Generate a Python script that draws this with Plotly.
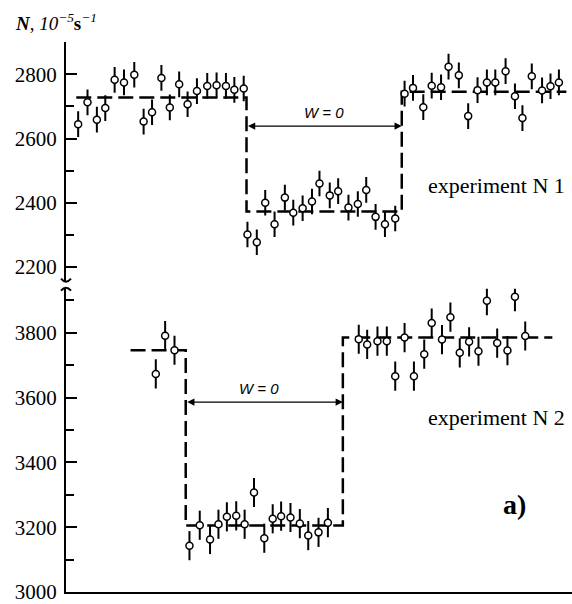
import plotly.graph_objects as go

# ---------------- data (time in arbitrary units, counting rate N in 1e-5 s^-1) --------------
# experiment N 1
t1 = [1.3, 2.3, 3.3, 4.2, 5.2, 6.2, 7.3, 8.3, 9.2, 10.2, 11.1, 12.1, 13.0, 14.0, 15.1, 16.1, 17.1, 18.0, 19.0,
      19.4, 20.4, 21.3, 22.3, 23.4, 24.3, 25.3, 26.3, 27.1, 28.2, 29.1, 30.2, 31.2, 32.1, 33.1, 34.1, 35.2,
      36.2, 37.1, 38.2, 39.1, 40.1, 40.9, 42.0, 43.0, 44.0, 45.0, 45.9, 47.0, 48.0, 48.8, 49.8, 50.9, 51.8, 52.7]
n1 = [2645, 2713, 2659, 2695, 2783, 2775, 2799, 2653, 2682, 2789, 2697, 2769, 2707, 2748, 2764, 2766, 2764, 2752, 2756,
      2301, 2277, 2400, 2333, 2416, 2369, 2383, 2404, 2460, 2423, 2436, 2385, 2396, 2440, 2356, 2333, 2351,
      2740, 2758, 2698, 2765, 2760, 2824, 2797, 2670, 2751, 2775, 2775, 2810, 2732, 2664, 2794, 2750, 2763, 2775]
err1 = 40
# mean levels (step line) of experiment N 1
step1_t = [1.1, 19.3, 19.3, 35.9, 35.9, 53.5]
step1_n = [2728, 2728, 2373, 2373, 2746, 2746]

# experiment N 2
t2 = [9.6, 10.6, 11.6,
      13.2, 14.3, 15.4, 16.3, 17.2, 18.2, 19.1, 20.1, 21.2, 22.1, 23.0, 24.0, 25.0, 25.9, 27.0, 28.0,
      31.3, 32.2, 33.3, 34.3, 35.2, 36.2, 37.2, 38.3, 39.1, 40.2, 41.1, 42.1, 43.1, 44.1, 45.0, 46.1, 47.2, 48.0, 49.1]
n2 = [3673, 3791, 3746,
      3143, 3206, 3162, 3209, 3232, 3235, 3209, 3307, 3166, 3226, 3234, 3230, 3211, 3174, 3184, 3214,
      3780, 3764, 3774, 3774, 3666, 3785, 3666, 3734, 3830, 3779, 3848, 3738, 3772, 3743, 3899, 3768, 3745, 3911, 3790]
err2 = 45
step2_t = [6.9, 12.8, 12.8, 29.6, 29.6, 52.0]
step2_n = [3746, 3746, 3205, 3205, 3785, 3785]

# W = 0 intervals (start, end, level)
w1 = (19.3, 35.9, 2639)
w2 = (12.8, 29.6, 3586)

ticks_top = [2200, 2400, 2600, 2800]
ticks_bot = [3000, 3200, 3400, 3600, 3800]

# ---------------- figure ----------------
SERIF = "Liberation Serif"
fig = go.Figure()

dash = "15px,6px"
fig.add_trace(go.Scatter(x=step1_t, y=step1_n, mode="lines", xaxis="x2", yaxis="y2",
                         line=dict(color="black", width=2.5, dash=dash), hoverinfo="skip"))
fig.add_trace(go.Scatter(x=t1, y=n1, mode="markers", xaxis="x2", yaxis="y2",
                         error_y=dict(type="constant", value=err1, color="black", thickness=2, width=0),
                         marker=dict(symbol="circle", size=7, color="white",
                                     line=dict(color="black", width=1.5))))
fig.add_trace(go.Scatter(x=step2_t, y=step2_n, mode="lines", xaxis="x", yaxis="y",
                         line=dict(color="black", width=2.5, dash=dash), hoverinfo="skip"))
fig.add_trace(go.Scatter(x=t2, y=n2, mode="markers", xaxis="x", yaxis="y",
                         error_y=dict(type="constant", value=err2, color="black", thickness=2, width=0),
                         marker=dict(symbol="circle", size=7, color="white",
                                     line=dict(color="black", width=1.5))))

XR = [0, 54.1]
tickfont = dict(family=SERIF, size=21, color="black")
fig.update_layout(
    width=572, height=604,
    margin=dict(l=66, r=0, t=42, b=9),
    paper_bgcolor="white", plot_bgcolor="white",
    showlegend=False,
    xaxis=dict(domain=[0, 1], range=XR, showline=True, linecolor="black", linewidth=2,
               showticklabels=False, ticks="", showgrid=False, zeroline=False, anchor="y"),
    xaxis2=dict(domain=[0, 1], range=XR, visible=False, anchor="y2", matches="x"),
    yaxis=dict(domain=[0, 0.5515], range=[3000, 3936], showline=True, linecolor="black", linewidth=2,
               tickvals=ticks_bot, ticks="inside", ticklen=11, tickwidth=2, tickcolor="black",
               minor=dict(ticks="inside", dtick=100, tick0=3000, ticklen=8, tickwidth=2, tickcolor="black"),
               tickfont=tickfont, ticklabeloverflow="allow", ticklabelstandoff=3,
               showgrid=False, zeroline=False, anchor="x"),
    yaxis2=dict(domain=[0.5642, 1], range=[2154, 2901], showline=True, linecolor="black", linewidth=2,
                tickvals=ticks_top, ticks="inside", ticklen=11, tickwidth=2, tickcolor="black",
                minor=dict(ticks="inside", dtick=100, tick0=2200, ticklen=8, tickwidth=2, tickcolor="black"),
                tickfont=tickfont, ticklabeloverflow="allow", ticklabelstandoff=3,
                showgrid=False, zeroline=False, anchor="x2"),
)

# W = 0 double arrows
for (a, b, lev), ya, xa in [(w1, "y2", "x2"), (w2, "y", "x")]:
    fig.add_annotation(x=b, y=lev, ax=a, ay=lev, xref=xa, yref=ya, axref=xa, ayref=ya,
                       text="", showarrow=True, arrowhead=2, arrowsize=1.2, arrowwidth=1.2,
                       arrowcolor="black", arrowside="end+start")

fig.add_annotation(x=(w1[0] + w1[1]) / 2, y=w1[2], xref="x2", yref="y2", yshift=14,
                   text="<i>W = 0</i>", showarrow=False,
                   font=dict(family="Liberation Sans", size=15, color="black"))
fig.add_annotation(x=(w2[0] + w2[1]) / 2 - 0.6, y=w2[2], xref="x", yref="y", yshift=14,
                   text="<i>W = 0</i>", showarrow=False,
                   font=dict(family="Liberation Sans", size=15, color="black"))

fig.add_annotation(x=46.0, y=2455, xref="x2", yref="y2", text="experiment N 1", showarrow=False,
                   font=dict(family=SERIF, size=22, color="black"))
fig.add_annotation(x=46.0, y=3540, xref="x", yref="y", text="experiment N 2", showarrow=False,
                   font=dict(family=SERIF, size=22, color="black"))
fig.add_annotation(x=48.0, y=3270, xref="x", yref="y", text="<b>a)</b>", showarrow=False,
                   font=dict(family=SERIF, size=28, color="black"))

# y-axis title
fig.add_annotation(x=-0.105, y=1.036, xref="paper", yref="paper", xanchor="left", yanchor="middle",
                   text="<b><i>N</i></b>, <i>10<sup>−5</sup></i><b>s</b><sup><i>−1</i></sup>",
                   showarrow=False, font=dict(family=SERIF, size=19, color="black"))


# axis break marks
def px(xp, yp):
    return (xp - 66) / 506, (595 - yp) / 553


a0, a1, a2 = px(61, 280), px(66, 286), px(71, 280)
b0, b1, b2 = px(61, 292), px(66, 286), px(71, 292)
for p0, p1, p2 in [(a0, a1, a2), (b0, b1, b2)]:
    fig.add_shape(type="path", xref="paper", yref="paper",
                  path=f"M {p0[0]},{p0[1]} Q {p1[0]},{p1[1]} {p2[0]},{p2[1]}",
                  line=dict(color="black", width=2))

fig.write_html("out.html", config={"displayModeBar": False})
with open("out.html", encoding="utf-8") as f:
    html = f.read()
html = html.replace("<head>", "<head><style>html,body{margin:0;padding:0;overflow:hidden}</style>", 1)
with open("out.html", "w", encoding="utf-8") as f:
    f.write(html)
